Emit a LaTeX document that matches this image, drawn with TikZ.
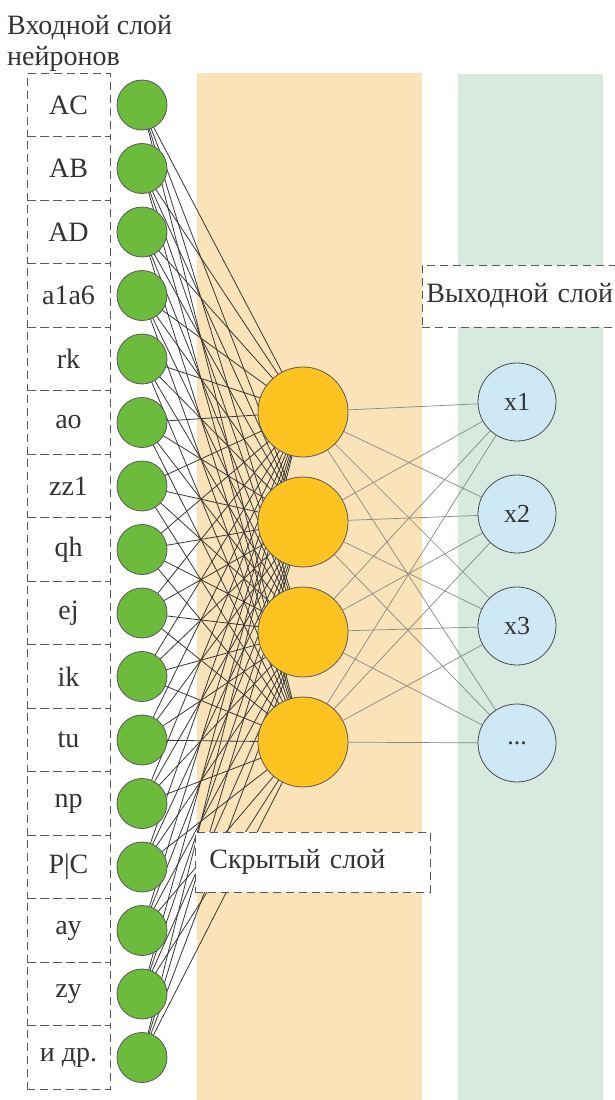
\documentclass[tikz,border=0pt]{standalone}
\usepackage{fontspec}
\setmainfont{Liberation Serif}
\definecolor{ingreen}{HTML}{6CBB3C}
\definecolor{hidorange}{HTML}{FDC421}
\definecolor{outblue}{HTML}{CFE8F6}
\definecolor{bgorange}{HTML}{FAE3B8}
\definecolor{bggreen}{HTML}{D6EADF}
\definecolor{txt}{HTML}{333333}
\definecolor{edgedark}{HTML}{383838}
\definecolor{edgelight}{HTML}{888888}
\pgfdeclarelayer{bg}
\pgfdeclarelayer{edges}
\pgfsetlayers{bg,edges,main}
\begin{document}
\begin{tikzpicture}[x=1pt,y=-1pt,
  every node/.style={text=txt,font=\fontsize{28}{31}\selectfont},
  inp/.style={circle,draw=black!65,fill=ingreen,minimum size=50pt,inner sep=0pt,line width=0.8pt},
  hid/.style={circle,draw=black!65,fill=hidorange,minimum size=90pt,inner sep=0pt,line width=0.8pt},
  outn/.style={circle,draw=black!70,fill=outblue,minimum size=78pt,inner sep=0pt,line width=0.8pt,font=\fontsize{26}{28}\selectfont},
  dashbox/.style={draw=black!65,line width=0.9pt,dash pattern=on 8pt off 5pt},
  labbox/.style={dashbox,rectangle,minimum width=83pt,minimum height=63.5pt,inner sep=0pt},
  e1/.style={draw=edgedark,line width=0.8pt},
  e2/.style={draw=edgelight,line width=0.7pt}
]
\useasboundingbox (0,0) rectangle (615,1100);
\begin{pgfonlayer}{bg}
\fill[white] (0,0) rectangle (615,1100);
\fill[bgorange] (197,73) rectangle (422,1100);
\fill[bggreen] (458,74) rectangle (603,1100);
\end{pgfonlayer}
% title
\node[anchor=north west,align=left,inner sep=0pt] (title) at (7,15) {Входной слой\\нейронов};
% input label boxes and nodes
\foreach \lab [count=\i] in {AC,AB,AD,a1a6,rk,ao,zz1,qh,ej,ik,tu,np,P|C,ay,zy,и др.}{
  \pgfmathsetmacro{\yy}{105+(\i-1)*63.5}
  \node[labbox] (l\i) at (68.5,\yy) {\lab};
  \node[inp] (i\i) at (142,\yy) {};
}
% hidden nodes
\node[hid] (h1) at (303,412) {};
\node[hid] (h2) at (303,522) {};
\node[hid] (h3) at (303,632) {};
\node[hid] (h4) at (303,742) {};
% output nodes
\node[outn] (o1) at (517,402) {x1};
\node[outn] (o2) at (517,514) {x2};
\node[outn] (o3) at (517,626) {x3};
\node[outn] (o4) at (517,743) {...};
% edges
\begin{pgfonlayer}{edges}
\foreach \i in {1,...,16}{
  \foreach \j in {1,...,4}{
    \path[e1] (i\i.center) -- (h\j.center);
  }
}
\foreach \j in {1,...,4}{
  \foreach \k in {1,...,4}{
    \path[e2] (h\j) -- (o\k);
  }
}
\end{pgfonlayer}
% layer labels
\node[dashbox,fill=white,anchor=west,text width=195pt,align=left,inner xsep=4pt,minimum height=62pt] (outlab) at (422,296) {Выходной слой};
\node[dashbox,fill=white,anchor=west,text width=207pt,align=left,inner xsep=14pt,minimum height=60pt] (hidlab) at (195,862) {Скрытый слой};
\end{tikzpicture}
\end{document}
